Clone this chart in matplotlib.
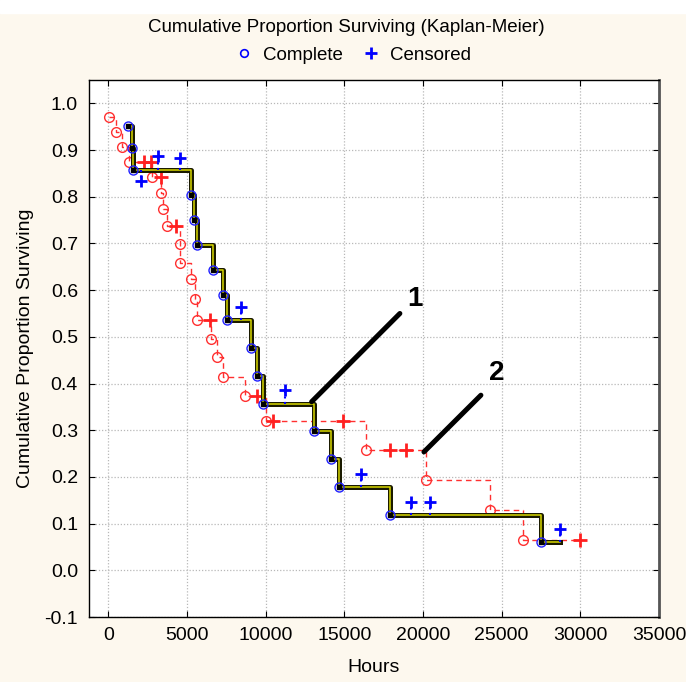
import numpy as np
import matplotlib
matplotlib.use("Agg")
import matplotlib.pyplot as plt
from matplotlib.lines import Line2D
from matplotlib.patches import Rectangle

plt.rcParams['font.family'] = ['Liberation Sans', 'DejaVu Sans']

# group 1 (black/yellow curve, blue markers)
t1 = [1230, 1480, 1590, 5250, 5460, 5620, 6650, 7300, 7520, 9070, 9430, 9850,
      13070, 14150, 14680, 17900, 27470]
s1 = [0.952, 0.905, 0.857, 0.804, 0.750, 0.696, 0.643, 0.589, 0.536, 0.476,
      0.417, 0.357, 0.298, 0.238, 0.179, 0.119, 0.060]
t1_end = 28700
cens1_t = [2060, 3180, 4550, 8430, 11230, 16050, 19230, 20440, 28700]
cens1_y = [0.833, 0.887, 0.884, 0.564, 0.386, 0.206, 0.146, 0.146, 0.089]

# group 2 (red dashed curve)
t2 = [60, 490, 890, 1334, 2780, 3350, 3455, 3710, 4540, 4580, 5235, 5510, 5615,
      6520, 6885, 7265, 8685, 10020, 16370, 20180, 24250, 26370]
s2 = [0.970, 0.938, 0.907, 0.875, 0.843, 0.807, 0.773, 0.737, 0.699, 0.659,
      0.623, 0.580, 0.537, 0.495, 0.457, 0.414, 0.373, 0.319, 0.257, 0.194,
      0.129, 0.064]
t2_end = 29970
cens2_t = [2270, 2712, 3330, 4300, 6480, 9430, 10440, 14930, 17900, 18910, 29970]

cream = '#fdf8ee'
fig = plt.figure(figsize=(6.86, 6.82), dpi=100, facecolor=cream)
fig.patches.append(Rectangle((0, 1 - 13 / 682), 1, 13 / 682, transform=fig.transFigure,
                             color='white', zorder=0))
ax = fig.add_axes([89 / 686, 1 - 617 / 682, 570 / 686, 537 / 682])
ax.set_facecolor('white')


def step_at(tt, ss, x):
    i = np.searchsorted(tt, x, side='right') - 1
    return np.array(ss)[np.clip(i, 0, len(ss) - 1)]


# red curve
ax.step(t2 + [t2_end], s2 + [s2[-1]], where='post', color='#ff3030', lw=1,
        ls=(0, (4, 3)), zorder=2)
ax.plot(t2, s2, 'o', ms=7, mfc='none', mec='#ff3030', mew=1, zorder=3)
ax.plot(cens2_t, step_at(t2, s2, cens2_t), '+', ms=10, mew=2, color='#ff2020', zorder=3)

# blue/black curve
ax.step(t1 + [t1_end], s1 + [s1[-1]], where='post', color='#1a1a00', lw=3.6, zorder=4)
ax.step(t1 + [t1_end], s1 + [s1[-1]], where='post', color='#d8d800', lw=1.1, zorder=5)
ax.plot(t1, s1, 's', ms=3.5, color='black', zorder=6)
ax.plot(t1, s1, 'o', ms=6.5, mfc='none', mec='#2020ff', mew=1, zorder=6)
ax.vlines(cens1_t, step_at(t1, s1, cens1_t), cens1_y, colors='#0000ff', lw=1.5,
          linestyles=':', zorder=6)
ax.plot(cens1_t, cens1_y, '+', ms=9, mew=2, color='#0000ff', zorder=7)

# annotations
ax.plot([12920, 18530], [0.361, 0.550], color='black', lw=3.6, solid_capstyle='round', zorder=8)
ax.plot([20060, 23680], [0.2535, 0.375], color='black', lw=3.6, solid_capstyle='round', zorder=8)
ax.text(19485, 0.580, '1', fontsize=20, fontweight='bold', ha='center', va='center')
ax.text(24675, 0.422, '2', fontsize=20, fontweight='bold', ha='center', va='center')

ax.set_xlim(-1230, 35000)
ax.set_ylim(-0.1, 1.05)
ax.set_xticks(np.arange(0, 35001, 5000))
ax.set_yticks(np.arange(-0.1, 1.01, 0.1))
ax.set_yticklabels(['%.1f' % v for v in np.arange(-0.1, 1.01, 0.1)])
ax.tick_params(direction='in', top=True, right=True, length=4, labelsize=14)
ax.tick_params(axis='x', pad=7)
ax.tick_params(axis='y', pad=8)
ax.grid(True, ls=(0, (1, 1.5)), color='#b8b8b8', lw=0.9)
for s in ['left', 'top', 'bottom']:
    ax.spines[s].set_color('black')
    ax.spines[s].set_linewidth(1)
ax.spines['right'].set_color('#555555')
ax.spines['right'].set_linewidth(2)

ax.set_xlabel('Hours', fontsize=14)
ax.xaxis.set_label_coords(0.5, -0.078)
ax.set_ylabel('Cumulative Proportion Surviving', fontsize=14)
ax.yaxis.set_label_coords(-0.0965, 0.5)

fig.text(346 / 686, 1 - 28 / 682, 'Cumulative Proportion Surviving (Kaplan-Meier)',
         fontsize=13.5, ha='center', va='center')
handles = [Line2D([], [], marker='o', ls='', mfc='none', mec='#0000ff', ms=5.5, mew=1.2),
           Line2D([], [], marker='+', ls='', color='#0000ff', ms=8, mew=2)]
fig.legend(handles, ['Complete', 'Censored'], loc='center', ncol=2, frameon=False,
           bbox_to_anchor=(352.7 / 686, 1 - 55 / 682), fontsize=13.5,
           handlelength=1.0, handletextpad=0.51, columnspacing=0.98)

fig.savefig('out.png', dpi=100, facecolor=cream)
